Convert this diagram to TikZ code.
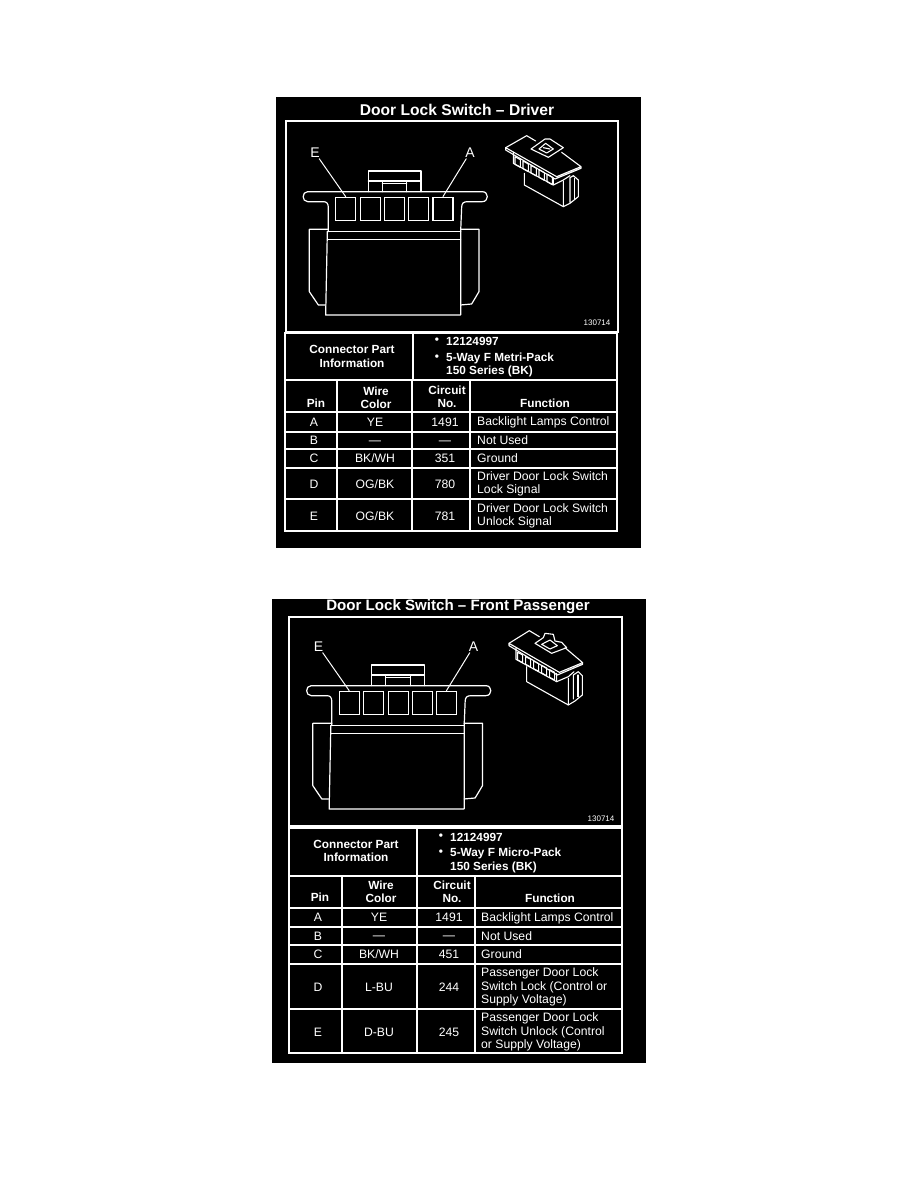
\documentclass[tikz,border=0pt]{standalone}
\usepackage{fontspec}
\setmainfont{Liberation Sans}
\tikzset{
  wl/.style={draw=white,line width=1.2pt,line join=round,line cap=round},
  tl/.style={draw=white,line width=1.3pt},
  thin icon/.style={draw=white,line width=1.1pt,line join=round,line cap=round},
  panelbg/.style={fill=black,draw=none},
  titletext/.style={text=white,inner sep=0pt,font=\bfseries\fontsize{15.6}{17}\selectfont},
  titletexttwo/.style={text=white,inner sep=0pt,font=\bfseries\fontsize{15.1}{17}\selectfont},
  cell/.style={text=white,inner sep=0pt,font=\fontsize{12.2}{13.4}\selectfont},
  fn/.style={text=white,inner sep=0pt,anchor=west,align=left,font=\fontsize{12.2}{13.4}\selectfont},
  hd/.style={text=white,inner sep=0pt,align=center,font=\bfseries\fontsize{11.8}{12.6}\selectfont},
  hdl/.style={text=white,inner sep=0pt,anchor=west,align=left,font=\bfseries\fontsize{11.8}{13.6}\selectfont},
  partno/.style={text=white,inner sep=0pt,font=\fontsize{8}{9}\selectfont},
  pinlabel/.style={text=white,inner sep=1pt,font=\fontsize{14}{15}\selectfont},
  pinbox/.style={draw=white,line width=1.3pt,fill=black,minimum width=20pt,minimum height=23.5pt,inner sep=0pt},
}
\newcommand{\doorshape}{%
  % flange and upper body
  \draw[wl] (160,410) -- (160,338) .. controls (160,325) and (155,320) .. (145,320) -- (98,320)
    .. controls (80,320) and (80,290) .. (98,290) -- (622,290)
    .. controls (642,290) and (642,320) .. (622,320) -- (578,320)
    .. controls (565,320) and (560,325) .. (560,338) -- (557,410);
  % top tab
  \draw[wl] (280,290) -- (280,228) -- (438,228) -- (438,290);
  \draw[wl] (280,258) -- (438,258);
  \draw[wl] (322,258) -- (322,290) (395,258) -- (395,290) (322,266) -- (395,266);
  % pins
  \node[pinbox] (pinE) at (212,342) {};
  \node[pinbox] (pinD) at (286,342) {};
  \node[pinbox] (pinC) at (359,342) {};
  \node[pinbox] (pinB) at (431,342) {};
  \node[pinbox] (pinA) at (504,342) {};
  % labels and leaders
  \node[pinlabel] (labE) at (120,173) {E};
  \node[pinlabel] (labA) at (585,173) {A};
  \draw[wl,line width=1pt] (labE) -- (pinE.north);
  \draw[wl,line width=1pt] (labA) -- (pinA.north);
  % lower body
  \draw[wl] (157,410) -- (557,410);
  \draw[wl] (157,433) -- (557,433);
  \draw[wl] (157,410) -- (152,660) -- (557,660) -- (557,410);
  % side wings
  \draw[wl] (160,403) -- (103,403) -- (103,590) -- (130,630) -- (152,630);
  \draw[wl] (557,403) -- (612,403) -- (612,590) -- (590,627) -- (557,630);
}
\begin{document}
\begin{tikzpicture}[x=1pt,y=-1pt]
\useasboundingbox (0,0) rectangle (918,1188);
\fill[white] (0,0) rectangle (918,1188);
%% ---------- panel 1 ----------
\path[panelbg] (276,97) rectangle (641,548);
\node[titletext] (t1) at (457,110) {Door Lock Switch -- Driver};
\draw[tl] (286,121) rectangle (618,332);
\begin{scope}[shift={(275,95)},x=.3333pt,y=-.3333pt]
  \doorshape
\end{scope}
\node[partno] (n1) at (597,323) {130714};
\begin{scope}[shift={(495,125)},x=.3333pt,y=-.3333pt]
  \draw[thin icon] (32,68) -- (95,32) -- (122,48);
  \draw[thin icon] (200,82) -- (258,125) -- (185,155) -- (32,68) -- (32,75) -- (180,162) -- (258,130) -- (258,125);
  \draw[thin icon] (108,72) -- (150,42) -- (165,42) -- (205,68) -- (160,97) -- cycle;
  \draw[thin icon] (132,72) -- (152,55) -- (175,72) -- (155,84) -- cycle;
  \draw[thin icon] (145,68) -- (165,72);
  \draw[thin icon] (55,82) -- (55,115) -- (175,180) -- (175,158);
  \foreach \i in {0,1,2,3,4}{
    \draw[thin icon] ({60+24*\i},{95+13*\i}) -- ({76+24*\i},{104+13*\i}) -- ({76+24*\i},{127+13*\i}) -- ({60+24*\i},{118+13*\i}) -- cycle;
  }
  \draw[thin icon] (88,145) -- (88,180) -- (205,245) -- (205,168);
  \draw[thin icon] (175,180) -- (205,165) -- (225,152);
  \draw[thin icon] (205,245) -- (225,235) -- (250,215) -- (250,165) -- (235,152) -- (225,158) -- (225,232);
  \draw[thin icon] (238,160) -- (238,222);
\end{scope}
% table 1
\draw[tl] (285,333) rectangle (617,531);
\draw[tl] (285,380) -- (617,380) (285,412) -- (617,412) (285,432) -- (617,432)
  (285,449) -- (617,449) (285,468) -- (617,468) (285,499) -- (617,499);
\draw[tl] (413,333) -- (413,380);
\draw[tl] (337,380) -- (337,531) (412,380) -- (412,531) (470,380) -- (470,531);
\node[hd] (cp1) at (352,356.5) {Connector Part\\[1pt]Information};
\node[hd] (b1a) at (437,341) {•};
\node[hdl] (v1a) at (446,341) {12124997};
\node[hd] (b1b) at (437,358) {•};
\node[hdl] (v1b) at (446,365) {5-Way F Metri-Pack\\150 Series (BK)};
\node[hd] (h1a) at (316,403) {Pin};
\node[hd] (h1b) at (376,397.5) {Wire\\Color};
\node[hd] (h1c) at (447,396.5) {Circuit\\No.};
\node[hd] (h1d) at (545,403) {Function};
\node[cell] (r1a1) at (314,422) {A};
\node[cell] (r1a2) at (375,422) {YE};
\node[cell] (r1a3) at (445,422) {1491};
\node[fn] (r1a4) at (477,422.5) {Backlight Lamps Control};
\node[cell] (r1b1) at (314,440.5) {B};
\node[cell] (r1b2) at (375,442.5) {---};
\node[cell] (r1b3) at (445,442.5) {---};
\node[fn] (r1b4) at (477,440.5) {Not Used};
\node[cell] (r1c1) at (314,458.5) {C};
\node[cell] (r1c2) at (375,458.5) {BK/WH};
\node[cell] (r1c3) at (445,458.5) {351};
\node[fn] (r1c4) at (477,458.5) {Ground};
\node[cell] (r1d1) at (314,484) {D};
\node[cell] (r1d2) at (375,484) {OG/BK};
\node[cell] (r1d3) at (445,484) {780};
\node[fn] (r1d4) at (477,484) {Driver Door Lock Switch\\Lock Signal};
\node[cell] (r1e1) at (314,516) {E};
\node[cell] (r1e2) at (375,516) {OG/BK};
\node[cell] (r1e3) at (445,516) {781};
\node[fn] (r1e4) at (477,516) {Driver Door Lock Switch\\Unlock Signal};
%% ---------- panel 2 ----------
\path[panelbg] (272,599) rectangle (646,1063);
\node[titletexttwo] (t2) at (458,606.5) {Door Lock Switch -- Front Passenger};
\draw[tl] (289,617) rectangle (622,826);
\begin{scope}[shift={(278.5,589)},x=.3333pt,y=-.3333pt]
  \doorshape
\end{scope}
\node[partno] (n2) at (601,819) {130714};
\begin{scope}[shift={(500,625)},x=.3333pt,y=-.3333pt]
  \draw[thin icon] (27,55) -- (88,17) -- (118,35);
  \draw[thin icon] (195,68) -- (248,113) -- (178,142) -- (27,55) -- (27,62) -- (172,150) -- (248,118) -- (248,113);
  \draw[thin icon] (105,55) -- (130,38) -- (135,25) -- (160,28) -- (165,48) -- (185,52) -- (200,68) -- (155,85) -- cycle;
  \draw[thin icon] (125,58) -- (150,45) -- (172,62) -- (150,72) -- cycle;
  \draw[thin icon] (48,70) -- (48,103) -- (170,170) -- (170,145);
  \foreach \i in {0,1,2,3,4}{
    \draw[thin icon] ({53+24*\i},{82+13*\i}) -- ({68+24*\i},{90+13*\i}) -- ({68+24*\i},{113+13*\i}) -- ({53+24*\i},{105+13*\i}) -- cycle;
  }
  \draw[thin icon] (80,125) -- (80,170) -- (205,240) -- (205,160);
  \draw[thin icon] (170,170) -- (205,155) -- (222,140);
  \draw[thin icon] (205,240) -- (225,228) -- (247,210) -- (247,152) -- (235,140) -- (220,150) -- (220,222);
  \draw[thin icon] (234,150) -- (234,215);
\end{scope}
% table 2
\draw[tl] (289,828) rectangle (622,1053);
\draw[tl] (289,876) -- (622,876) (289,908) -- (622,908) (289,927) -- (622,927)
  (289,945) -- (622,945) (289,964) -- (622,964) (289,1009) -- (622,1009);
\draw[tl] (417,828) -- (417,876);
\draw[tl] (342,876) -- (342,1053) (417,876) -- (417,1053) (475,876) -- (475,1053);
\node[hd] (cp2) at (356,851) {Connector Part\\[1pt]Information};
\node[hd] (b2a) at (441,837) {•};
\node[hdl] (v2a) at (450,837) {12124997};
\node[hd] (b2b) at (441,853) {•};
\node[hdl] (v2b) at (450,860.5) {5-Way F Micro-Pack\\150 Series (BK)};
\node[hd] (h2a) at (320,897.5) {Pin};
\node[hd] (h2b) at (381,892) {Wire\\Color};
\node[hd] (h2c) at (452,892) {Circuit\\No.};
\node[hd] (h2d) at (550,898) {Function};
\node[cell] (r2a1) at (318,917.5) {A};
\node[cell] (r2a2) at (379,917.5) {YE};
\node[cell] (r2a3) at (449,917.5) {1491};
\node[fn] (r2a4) at (481,918) {Backlight Lamps Control};
\node[cell] (r2b1) at (318,936) {B};
\node[cell] (r2b2) at (379,938) {---};
\node[cell] (r2b3) at (449,938) {---};
\node[fn] (r2b4) at (481,936) {Not Used};
\node[cell] (r2c1) at (318,954.5) {C};
\node[cell] (r2c2) at (379,954.5) {BK/WH};
\node[cell] (r2c3) at (449,954.5) {451};
\node[fn] (r2c4) at (481,954.5) {Ground};
\node[cell] (r2d1) at (318,987) {D};
\node[cell] (r2d2) at (379,987) {L-BU};
\node[cell] (r2d3) at (449,987) {244};
\node[fn] (r2d4) at (481,987) {Passenger Door Lock\\Switch Lock (Control or\\Supply Voltage)};
\node[cell] (r2e1) at (318,1032) {E};
\node[cell] (r2e2) at (379,1032) {D-BU};
\node[cell] (r2e3) at (449,1032) {245};
\node[fn] (r2e4) at (481,1032) {Passenger Door Lock\\Switch Unlock (Control\\or Supply Voltage)};
\end{tikzpicture}
\end{document}
